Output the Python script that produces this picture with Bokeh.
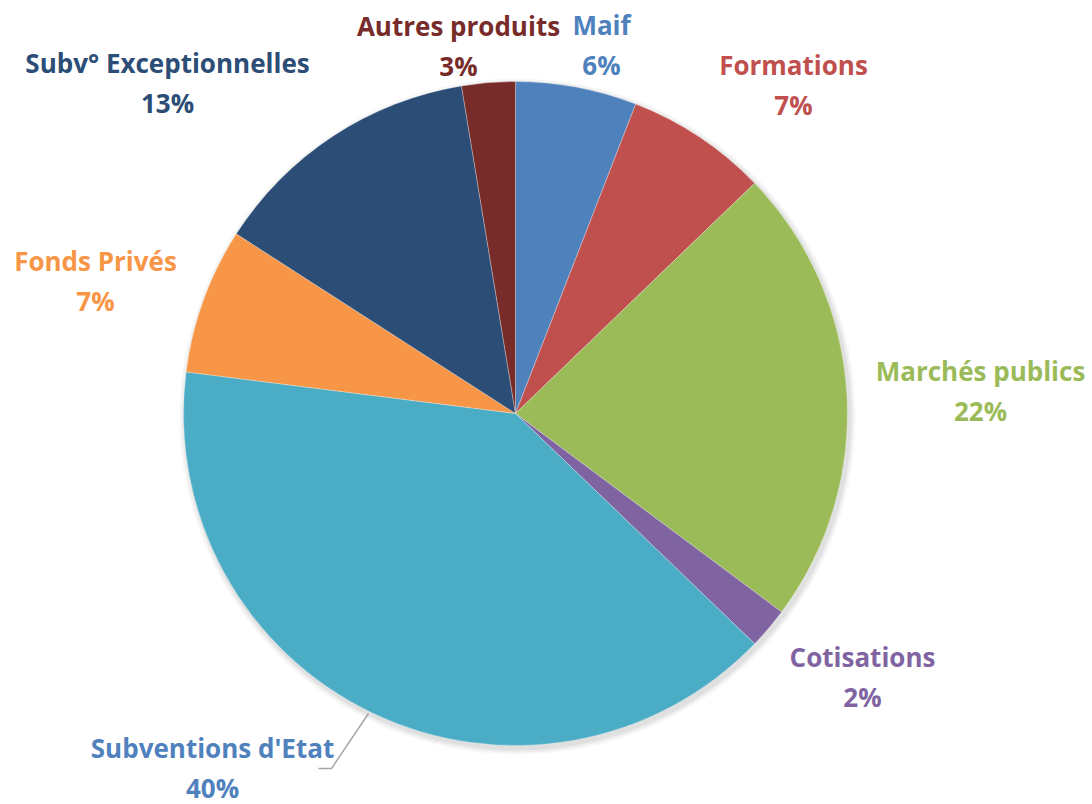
import numpy as np
from bokeh.plotting import figure
from bokeh.models import Range1d, ColumnDataSource
from bokeh.core.properties import value
from bokeh.embed import file_html
from bokeh.resources import INLINE

# ---- data (clockwise from 12 o'clock) ----
categories = ["Maif", "Formations", "Marchés publics", "Cotisations",
              "Subventions d'Etat", "Fonds Privés", "Subv° Exceptionnelles",
              "Autres produits"]
shares = [5.9, 6.9, 22.4, 2.0, 39.8, 7.1, 13.3, 2.6]

# ---- styles ----
colors = ["#4F81BD", "#C0504D", "#9BBB59", "#8064A2",
          "#4BACC6", "#F79646", "#2C4D75", "#772C2A"]
label_colors = ["#4F81BD", "#C0504D", "#9BBB59", "#8064A2",
                "#4F81BD", "#F79646", "#2C4D75", "#772C2A"]
# label block centres in page pixels (layout)
label_pos = [(601, 44), (793, 84), (980, 390), (862, 676),
             (212, 767), (95, 280), (167, 82), (458, 45)]

W, H = 1092, 804
CX, CY, R = 515, 413, 332  # page pixel centre / radius


def py(Y):
    return H - Y


p = figure(width=W, height=H, output_backend="svg", toolbar_location=None,
           x_range=Range1d(0, W), y_range=Range1d(0, H),
           min_border=0)
p.axis.visible = False
p.grid.visible = False
p.outline_line_color = None
p.background_fill_color = "white"

vals = np.array(shares, dtype=float)
frac = vals / vals.sum()
cum = np.concatenate([[0], np.cumsum(frac)])
start = np.pi / 2 - 2 * np.pi * cum[:-1]
end = np.pi / 2 - 2 * np.pi * cum[1:]

# soft shadow
for i, a in enumerate([0.05, 0.04, 0.03]):
    p.circle(x=[CX + 2], y=[py(CY) - 3], radius=R + 2 + 2 * i,
             fill_color="black", fill_alpha=a, line_color=None)

src = ColumnDataSource(dict(start=start, end=end, color=colors))
p.wedge(x=CX, y=py(CY), radius=R, start_angle="start", end_angle="end",
        direction="clock", fill_color="color", line_color="white",
        line_width=0.5, line_alpha=0.6, source=src)

# leader line for Subventions d'Etat
p.line(x=[318, 331, 368], y=[py(768), py(768), py(713)],
       line_color="#A6A6A6", line_width=1.5)

pct = [f"{round(f * 100):d}%" for f in frac]
names_x = [lp[0] for lp in label_pos]
names_y = [py(lp[1] - 20) for lp in label_pos]
pct_y = [py(lp[1] + 20) for lp in label_pos]
tsrc = ColumnDataSource(dict(x=names_x, yn=names_y, yp=pct_y,
                             name=categories, pct=pct, color=label_colors))
common = dict(text_font=value("Open Sans"), text_font_style="bold",
              text_font_size="26px", text_align="center",
              text_baseline="middle", text_color="color", source=tsrc)
p.text(x="x", y="yn", text="name", **common)
p.text(x="x", y="yp", text="pct", **common)

open("out.html", "w").write(file_html(p, INLINE))
